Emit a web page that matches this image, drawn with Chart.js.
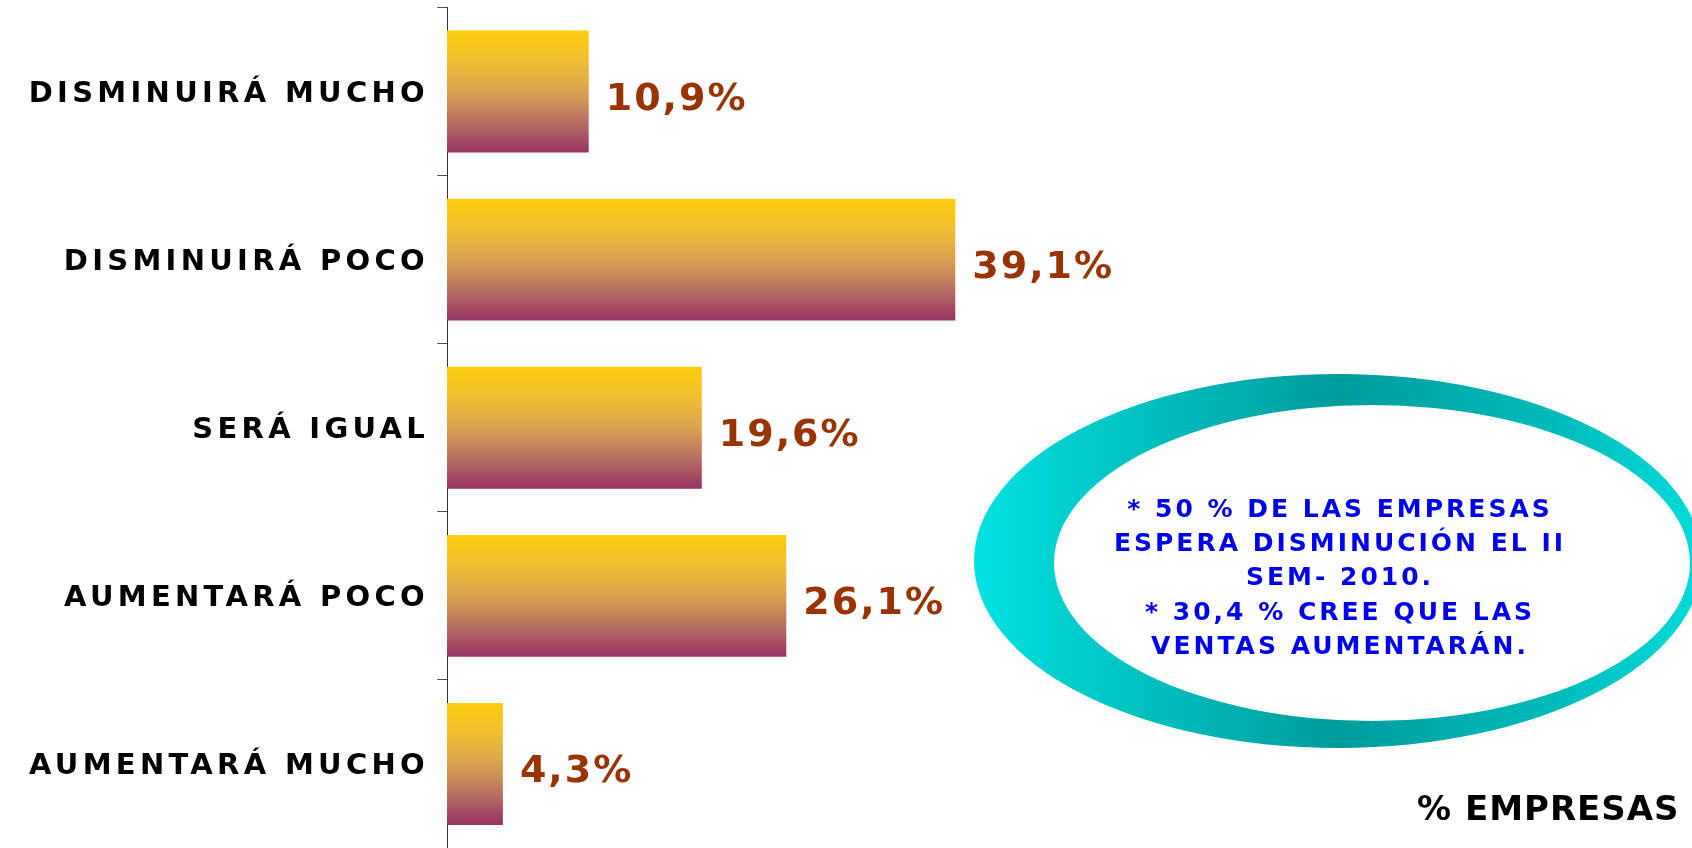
<!DOCTYPE html>
<html lang="es">
<head>
  <meta charset="UTF-8">
  <title>Ventas II semestre 2010</title>
  <script src="https://cdn.jsdelivr.net/npm/chart.js"></script>
  <style>
    body { margin: 0; background: #ffffff; }
    #grafico { display: block; }
  </style>
</head>
<body>
  <canvas id="grafico" width="1692" height="848"></canvas>

  <script>
    // Datos del gráfico
    const categorias = ['DISMINUIRÁ MUCHO', 'DISMINUIRÁ POCO', 'SERÁ IGUAL', 'AUMENTARÁ POCO', 'AUMENTARÁ MUCHO'];
    const porcentajes = [10.9, 39.1, 19.6, 26.1, 4.3];
    const notaLineas = [
      '* 50 % DE LAS EMPRESAS',
      'ESPERA DISMINUCIÓN EL II',
      'SEM- 2010.',
      '* 30,4 % CREE QUE LAS',
      'VENTAS AUMENTARÁN.'
    ];
    const tituloEje = '% EMPRESAS';

    const anchoBarra = 0.725;

    // Degradado amarillo -> morado para cada barra
    function rellenoBarra(context) {
      const chart = context.chart;
      const y = chart.scales.y;
      if (!y || !chart.chartArea || context.type !== 'data') return '#FECC0C';
      const centro = y.getPixelForValue(context.dataIndex);
      const mitad = (y.height / categorias.length) * anchoBarra / 2;
      if (!isFinite(centro) || !isFinite(mitad)) return '#FECC0C';
      const g = chart.ctx.createLinearGradient(0, centro - mitad, 0, centro + mitad);
      g.addColorStop(0, '#FECC0C');
      g.addColorStop(0.25, '#F0BE30');
      g.addColorStop(0.5, '#DAA250');
      g.addColorStop(0.75, '#B87062');
      g.addColorStop(1, '#983264');
      return g;
    }

    // Espaciado de letras para las etiquetas del eje
    const espaciado = {
      id: 'espaciado',
      beforeDraw(chart) {
        chart.ctx.letterSpacing = '4.3px';
      }
    };

    // Valores al final de cada barra
    const etiquetasValor = {
      id: 'etiquetasValor',
      afterDatasetsDraw(chart) {
        const ctx = chart.ctx;
        const meta = chart.getDatasetMeta(0);
        ctx.save();
        ctx.letterSpacing = '2px';
        ctx.font = 'bold 38px "DejaVu Sans"';
        ctx.fillStyle = '#993300';
        ctx.textAlign = 'left';
        ctx.textBaseline = 'alphabetic';
        meta.data.forEach((barra, i) => {
          const texto = porcentajes[i].toFixed(1).replace('.', ',') + '%';
          ctx.fillText(texto, barra.x + 17, barra.y + 18);
        });
        ctx.restore();
      }
    };

    // Elipse con el comentario y título del eje
    const nota = {
      id: 'nota',
      afterDraw(chart) {
        const ctx = chart.ctx;
        ctx.save();
        const g = ctx.createLinearGradient(974, 0, 1702, 0);
        g.addColorStop(0, '#00E3E3');
        g.addColorStop(0.12, '#00CFCF');
        g.addColorStop(0.5, '#009C9C');
        g.addColorStop(0.8, '#00BBBB');
        g.addColorStop(1, '#00DCDC');
        ctx.beginPath();
        ctx.ellipse(1338, 561, 364, 187, 0, 0, Math.PI * 2);
        ctx.moveTo(1372 + 318, 563);
        ctx.ellipse(1372, 563, 318, 158, 0, 0, Math.PI * 2);
        ctx.fillStyle = g;
        ctx.fill('evenodd');

        ctx.letterSpacing = '3px';
        ctx.font = 'bold 25px "DejaVu Sans"';
        ctx.fillStyle = '#0000EE';
        ctx.textAlign = 'center';
        ctx.textBaseline = 'alphabetic';
        notaLineas.forEach((linea, i) => {
          ctx.fillText(linea, 1340, 517 + i * 34.2);
        });

        ctx.letterSpacing = '1px';
        ctx.font = 'bold 34px "DejaVu Sans"';
        ctx.fillStyle = '#000000';
        ctx.textAlign = 'left';
        ctx.fillText(tituloEje, 1417, 820);
        ctx.restore();
      }
    };

    new Chart(document.getElementById('grafico'), {
      type: 'bar',
      data: {
        labels: categorias,
        datasets: [{
          data: porcentajes,
          backgroundColor: rellenoBarra,
          borderWidth: 0,
          barPercentage: anchoBarra,
          categoryPercentage: 1
        }]
      },
      options: {
        indexAxis: 'y',
        responsive: false,
        animation: false,
        devicePixelRatio: 1,
        layout: { padding: { top: 7.5, bottom: 0, left: 0, right: 10 } },
        plugins: {
          legend: { display: false },
          tooltip: { enabled: false }
        },
        scales: {
          x: {
            display: false,
            min: 0,
            max: 95
          },
          y: {
            afterFit(scale) {
              scale.width = 447;
              scale.paddingTop = 0;
              scale.paddingBottom = 0;
            },
            border: { display: true, color: '#333333', width: 1 },
            grid: {
              offset: true,
              drawOnChartArea: false,
              drawTicks: true,
              tickLength: 10,
              color: '#555555'
            },
            ticks: {
              padding: 8,
              labelOffset: 3,
              color: '#000000',
              font: { family: '"DejaVu Sans"', size: 29, weight: 'bold' }
            }
          }
        }
      },
      plugins: [espaciado, etiquetasValor, nota]
    });
  </script>
</body>
</html>
